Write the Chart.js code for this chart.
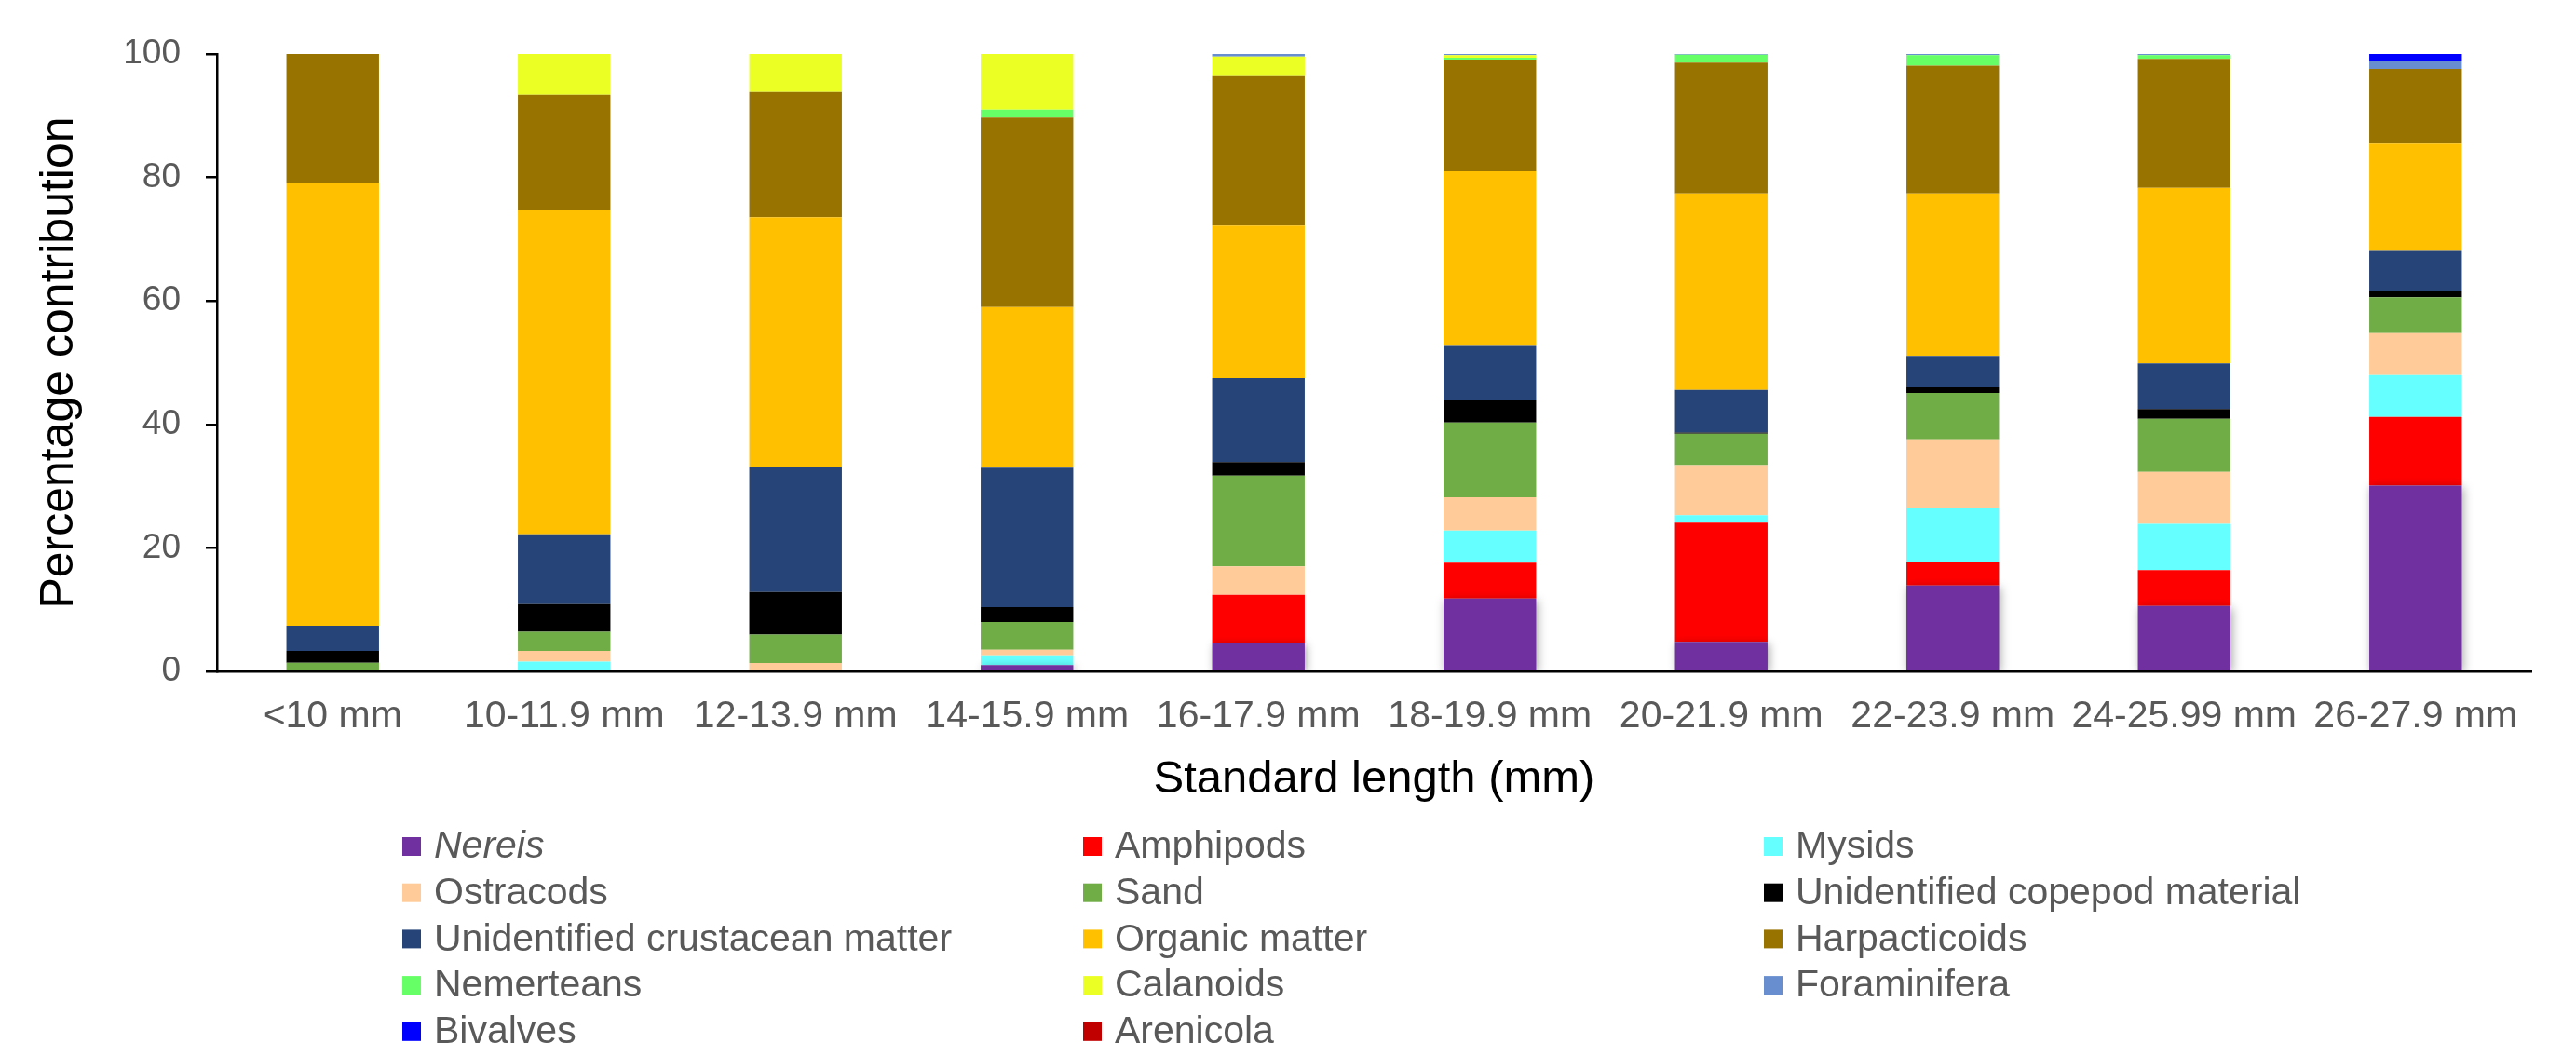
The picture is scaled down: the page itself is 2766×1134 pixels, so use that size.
<!DOCTYPE html>
<html>
<head>
<meta charset="utf-8">
<script src="https://cdn.jsdelivr.net/npm/chart.js@4.4.1/dist/chart.umd.min.js"></script>
<style>
    body { margin: 0; background: #fff; }
    #wrap { width: 2766px; height: 1134px; }
</style>
</head>
<body>
<div id="wrap"><canvas id="dietChart" width="2766" height="1134"></canvas></div>
<script>
var categories = ['<10 mm', '10-11.9 mm', '12-13.9 mm', '14-15.9 mm', '16-17.9 mm',
    '18-19.9 mm', '20-21.9 mm', '22-23.9 mm', '24-25.99 mm', '26-27.9 mm'];

var nereis = [0, 0, 0, 1.0, 4.6, 11.8, 4.8, 13.9, 10.6, 30.1];
var amphipods = [0, 0, 0, 0, 7.8, 5.8, 19.3, 3.9, 5.8, 11.1];
var mysids = [0, 1.6, 0, 1.6, 0, 5.2, 1.2, 8.7, 7.5, 6.8];
var ostracods = [0, 1.7, 1.35, 0.9, 4.6, 5.4, 8.1, 11.1, 8.4, 6.8];
var sand = [1.4, 3.1, 4.6, 4.5, 14.7, 12.1, 5.1, 7.5, 8.6, 5.8];
var copepodMaterial = [1.9, 4.5, 6.9, 2.4, 2.2, 3.6, 0.2, 0.9, 1.6, 1.1];
var crustaceanMatter = [4.1, 11.3, 20.2, 22.6, 13.6, 8.8, 6.9, 5.1, 7.4, 6.4];
var organicMatter = [71.7, 52.6, 40.5, 26.0, 24.7, 28.3, 31.8, 26.3, 28.4, 17.4];
var harpacticoids = [20.9, 18.6, 20.3, 30.7, 24.2, 18.1, 21.2, 20.7, 20.9, 12.1];
var nemerteans = [0, 0, 0, 1.3, 0, 0.3, 1.3, 1.7, 0.6, 0];
var calanoids = [0, 6.6, 6.2, 9.0, 3.2, 0.4, 0, 0, 0, 0];
var foraminifera = [0, 0, 0, 0, 0.4, 0.2, 0.1, 0.2, 0.2, 1.2];
var bivalves = [0, 0, 0, 0, 0, 0, 0, 0, 0, 1.2];
var arenicola = [0, 0, 0, 0, 0, 0, 0, 0, 0, 0];

var yTicks = [0, 20, 40, 60, 80, 100];

var series = [
    ['Nereis', nereis, '#7030a0'],
    ['Amphipods', amphipods, '#ff0000'],
    ['Mysids', mysids, '#66ffff'],
    ['Ostracods', ostracods, '#ffcc99'],
    ['Sand', sand, '#70ad47'],
    ['Unidentified copepod material', copepodMaterial, '#000000'],
    ['Unidentified crustacean matter', crustaceanMatter, '#264478'],
    ['Organic matter', organicMatter, '#ffc000'],
    ['Harpacticoids', harpacticoids, '#997300'],
    ['Nemerteans', nemerteans, '#66ff66'],
    ['Calanoids', calanoids, '#ecff24'],
    ['Foraminifera', foraminifera, '#698ed0'],
    ['Bivalves', bivalves, '#0000ff'],
    ['Arenicola', arenicola, '#c00000']
];

var datasets = series.map(function (s) {
    return {
        label: s[0],
        data: s[1],
        backgroundColor: s[2],
        borderWidth: 0,
        barPercentage: 0.4,
        categoryPercentage: 1.0
    };
});

// only the Nereis series has the soft Excel shadow
var nereisShadow = {
    id: 'nereisShadow',
    beforeDatasetDraw: function (chart, args) {
        if (args.index !== 0) return;
        var c = chart.ctx;
        c.save();
        c.shadowColor = 'rgba(0,0,0,0.35)';
        c.shadowBlur = 10;
        c.shadowOffsetX = 2;
        c.shadowOffsetY = 2;
    },
    afterDatasetDraw: function (chart, args) {
        if (args.index !== 0) return;
        chart.ctx.restore();
    }
};

// legend in three columns under the axis title, like the Excel original
var gridLegend = {
    id: 'gridLegend',
    afterDraw: function (chart) {
        var ctx = chart.ctx;
        var colX = [432, 1163, 1894];
        var rowY = 909;
        var rowGap = 49.7;
        ctx.save();
        ctx.textBaseline = 'middle';
        ctx.textAlign = 'left';
        chart.data.datasets.forEach(function (ds, i) {
            var x = colX[i % 3];
            var y = rowY + Math.floor(i / 3) * rowGap;
            ctx.fillStyle = ds.backgroundColor;
            ctx.fillRect(x, y - 10, 20, 20);
            ctx.fillStyle = '#595959';
            ctx.font = (i === 0 ? 'italic ' : '') + '41px "Liberation Sans", Arial, sans-serif';
            ctx.fillText(ds.label, x + 34, y + 1);
        });
        ctx.restore();
    }
};

var ctx = document.getElementById('dietChart').getContext('2d');
var chart = new Chart(ctx, {
    type: 'bar',
    data: {
        labels: categories,
        datasets: datasets
    },
    plugins: [nereisShadow, gridLegend],
    options: {
        responsive: false,
        animation: false,
        devicePixelRatio: 1,
        layout: {
            padding: { left: 20, right: 48, top: 58, bottom: 243 }
        },
        plugins: {
            legend: { display: false },
            tooltip: { enabled: false }
        },
        scales: {
            x: {
                stacked: true,
                grid: { display: true, drawOnChartArea: false, drawTicks: false },
                border: { color: '#000000', width: 2.5 },
                ticks: {
                    color: '#595959',
                    font: { family: '"Liberation Sans", Arial, sans-serif', size: 41 },
                    padding: 24,
                    maxRotation: 0,
                    autoSkip: false
                },
                title: {
                    display: true,
                    text: 'Standard length (mm)',
                    color: '#000000',
                    font: { family: '"Liberation Sans", Arial, sans-serif', size: 49 },
                    padding: { top: 0, bottom: 24 }
                },
                afterFit: function (scale) { scale.height = 170; }
            },
            y: {
                stacked: true,
                min: 0,
                max: 100,
                afterBuildTicks: function (scale) {
                    scale.ticks = yTicks.map(function (v) { return { value: v }; });
                },
                grid: { display: true, drawOnChartArea: false, drawTicks: true, tickLength: 12, color: '#000000', lineWidth: 2.5 },
                border: { color: '#000000', width: 2.5 },
                ticks: {
                    color: '#595959',
                    font: { family: '"Liberation Sans", Arial, sans-serif', size: 37 },
                    padding: 27
                },
                title: {
                    display: true,
                    text: 'Percentage contribution',
                    color: '#000000',
                    font: { family: '"Liberation Sans", Arial, sans-serif', size: 50 },
                    padding: { top: 14, bottom: 0 }
                },
                afterFit: function (scale) { scale.width = 213; }
            }
        }
    }
});
</script>
</body>
</html>
